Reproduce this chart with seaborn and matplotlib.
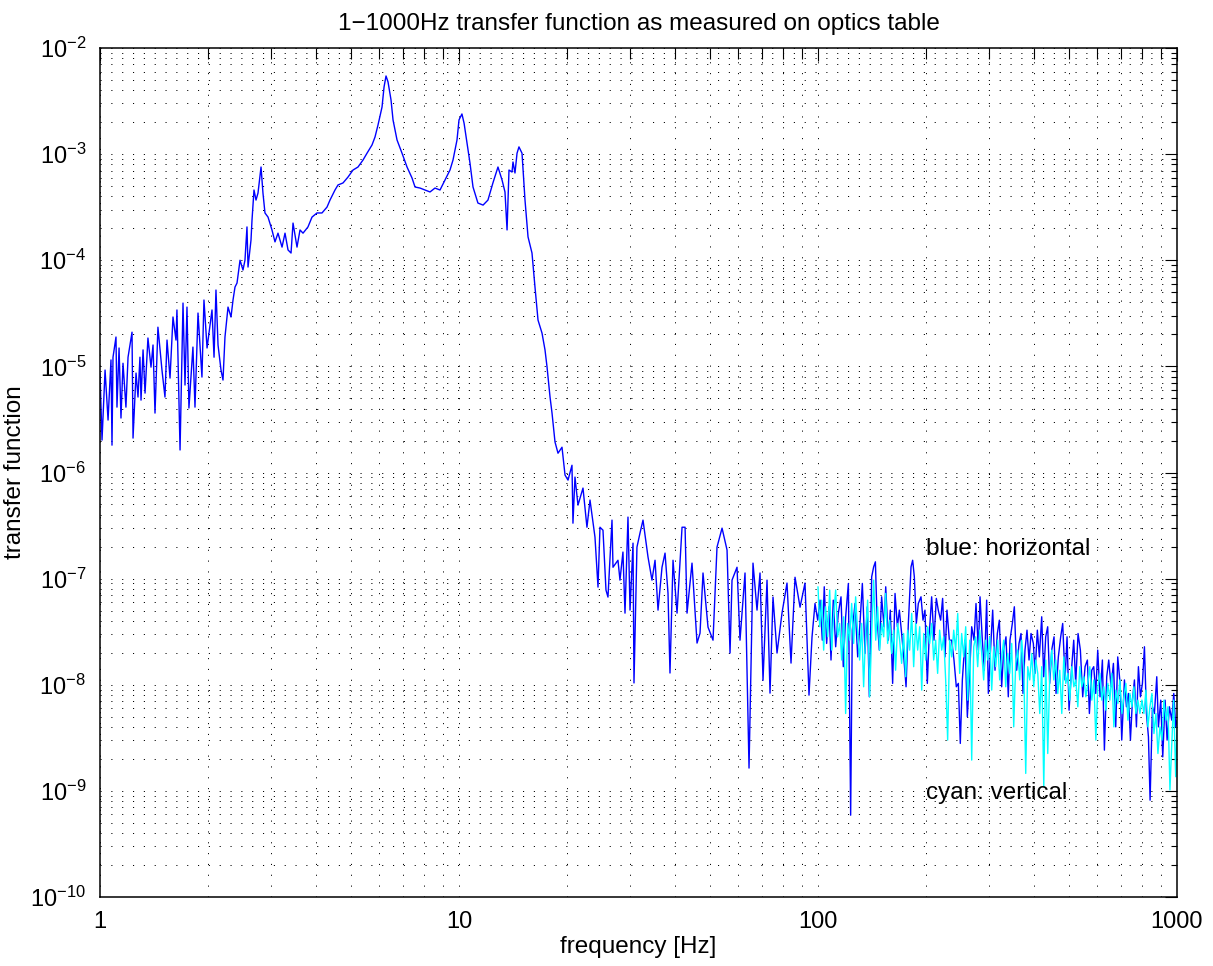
import matplotlib
matplotlib.use("Agg")
import matplotlib.pyplot as plt
import seaborn as sns
from matplotlib.ticker import LogLocator, NullFormatter, FixedLocator

# horizontal transfer function (blue), 1-1000 Hz
freq_horizontal = [
    1.000, 1.013, 1.033, 1.053, 1.073, 1.080, 1.087, 1.108, 1.115, 1.130,
    1.144, 1.159, 1.181, 1.197, 1.228, 1.236, 1.260, 1.276, 1.292, 1.301,
    1.318, 1.335, 1.360, 1.387, 1.405, 1.423, 1.450, 1.488, 1.517, 1.537,
    1.567, 1.597, 1.628, 1.638, 1.671, 1.703, 1.725, 1.747, 1.769, 1.815,
    1.839, 1.875, 1.923, 1.948, 1.987, 2.051, 2.078, 2.104, 2.132, 2.173,
    2.201, 2.229, 2.273, 2.317, 2.347, 2.377, 2.408, 2.455, 2.502, 2.534,
    2.567, 2.584, 2.634, 2.651, 2.685, 2.720, 2.755, 2.809, 2.844, 2.881,
    2.938, 3.013, 3.072, 3.132, 3.214, 3.276, 3.340, 3.405, 3.449, 3.538,
    3.607, 3.677, 3.796, 3.895, 4.022, 4.153, 4.289, 4.372, 4.514, 4.602,
    4.752, 4.907, 5.067, 5.232, 5.403, 5.543, 5.724, 5.835, 5.948, 6.104,
    6.183, 6.262, 6.343, 6.466, 6.550, 6.720, 6.939, 7.165, 7.398, 7.542,
    7.788, 8.041, 8.303, 8.573, 8.853, 9.141, 9.438, 9.623, 9.873, 10.00,
    10.19, 10.33, 10.53, 10.73, 10.94, 11.29, 11.67, 12.04, 12.43, 12.84,
    13.18, 13.43, 13.61, 13.78, 14.05, 14.14, 14.32, 14.51, 14.69, 14.98,
    15.27, 15.57, 15.97, 16.28, 16.60, 17.03, 17.36, 17.59, 17.93, 18.16,
    18.51, 18.87, 19.36, 19.74, 20.12, 20.64, 20.77, 21.04, 21.45, 22.15,
    22.72, 23.17, 23.92, 24.39, 24.70, 25.18, 25.67, 26.00, 26.68, 26.85,
    27.72, 28.08, 28.62, 29.00, 29.56, 29.95, 30.53, 30.72, 31.31, 31.93,
    32.55, 33.61, 34.48, 35.16, 35.84, 36.77, 37.49, 38.21, 38.70, 39.46,
    40.49, 41.81, 42.63, 43.17, 44.57, 46.03, 46.92, 47.83, 49.39, 51.00,
    52.32, 54.04, 55.80, 56.88, 57.61, 59.49, 60.64, 62.62, 64.25, 65.91,
    67.63, 68.94, 70.28, 72.11, 73.51, 74.93, 76.89, 79.38, 81.97, 84.11,
    86.30, 89.12, 92.00, 94.39, 96.23,
    98.1, 99.8, 101.3, 102.8, 104.1, 105.7, 107.3, 108.7, 110.3, 112.0,
    113.9, 115.9, 117.6, 119.4, 121.5, 123.3, 124.6, 126.8, 129.0, 130.9,
    132.9, 135.2, 137.2, 139.0, 141.1, 142.9, 144.5, 146.0, 148.2, 150.4,
    152.7, 154.4, 157.0, 159.0, 161.4, 163.9, 166.4, 168.5, 171.0, 173.6,
    175.9, 178.5, 181.6, 183.5, 185.5, 187.9, 190.3, 193.6, 196.1, 198.6,
    201.6, 204.2, 207.3, 210.4, 213.6, 216.3, 219.6, 222.4, 225.8, 228.7,
    232.2, 235.7, 239.2, 242.8, 246.0, 249.1, 252.4, 256.7, 260.6, 264.0,
    268.0, 272.0, 275.5, 279.7, 282.7, 286.9, 290.6, 295.0, 298.2, 302.7,
    306.6, 311.2, 315.9, 320.0, 324.8, 329.0, 333.9, 338.9, 342.6, 347.8,
    352.3, 357.6, 363.0, 367.7, 372.4, 377.2, 382.1, 387.1, 392.1, 398.0,
    402.3, 408.3, 413.6, 419.9, 425.3, 430.8, 436.3, 442.0, 447.7, 454.4,
    460.3, 467.2, 474.3, 480.4, 487.7, 494.0, 500.4, 509.0, 515.6, 522.2,
    530.1, 538.1, 546.2, 554.5, 562.8, 570.1, 578.7, 586.2, 593.8, 601.4,
    610.5, 619.7, 627.7, 637.2, 645.4, 655.2, 665.1, 675.1, 683.8, 694.1,
    701.6, 713.8, 723.0, 732.3, 741.8, 751.4, 761.1, 770.9, 780.8, 790.9,
    801.1, 811.5, 822.0, 832.6, 841.5, 854.2, 865.2, 878.3, 887.7, 901.1,
    912.7, 926.5, 938.5, 952.6, 967.0, 979.5, 991.8, 1000.0,
]
tf_horizontal = [
    8.65e-6, 2.02e-6, 9.23e-6, 3.12e-6, 1.15e-5, 1.81e-6, 1.22e-5, 1.89e-5, 4.13e-6, 1.49e-5,
    3.26e-6, 1.07e-5, 4.13e-6, 1.22e-5, 2.10e-5, 2.11e-6, 8.65e-6, 5.14e-6, 1.22e-5, 4.81e-6,
    1.43e-5, 5.60e-6, 1.85e-5, 9.84e-6, 1.59e-5, 3.63e-6, 2.34e-5, 9.23e-6, 5.14e-6, 1.77e-5,
    7.76e-6, 2.92e-5, 1.77e-5, 3.40e-5, 1.63e-6, 3.95e-5, 6.67e-6, 3.62e-5, 4.05e-6, 1.52e-5,
    4.13e-6, 3.18e-5, 7.93e-6, 4.22e-5, 1.49e-5, 3.40e-5, 1.22e-5, 5.24e-5, 1.59e-5, 9.23e-6,
    7.43e-6, 1.89e-5, 3.62e-5, 2.92e-5, 4.22e-5, 5.59e-5, 6.10e-5, 1.00e-4, 8.09e-5, 1.00e-4,
    2.06e-4, 8.63e-5, 1.55e-4, 2.39e-4, 4.59e-4, 3.69e-4, 4.30e-4, 7.56e-4, 4.30e-4, 2.79e-4,
    2.55e-4, 1.93e-4, 1.49e-4, 1.80e-4, 1.33e-4, 1.80e-4, 1.25e-4, 1.17e-4, 2.24e-4, 1.33e-4,
    1.93e-4, 1.80e-4, 2.06e-4, 2.55e-4, 2.79e-4, 2.79e-4, 3.17e-4, 3.69e-4, 4.59e-4, 5.12e-4,
    5.35e-4, 6.08e-4, 7.08e-4, 7.56e-4, 8.80e-4, 1.02e-3, 1.22e-3, 1.45e-3, 1.88e-3, 2.78e-3,
    4.29e-3, 5.45e-3, 4.79e-3, 3.24e-3, 2.10e-3, 1.36e-3, 1.02e-3, 7.56e-4, 5.96e-4, 4.90e-4,
    4.79e-4, 4.59e-4, 4.40e-4, 4.79e-4, 4.59e-4, 5.70e-4, 7.08e-4, 8.80e-4, 1.36e-3, 2.10e-3,
    2.39e-3, 1.96e-3, 1.27e-3, 8.24e-4, 4.90e-4, 3.46e-4, 3.31e-4, 3.69e-4, 5.35e-4, 7.56e-4,
    5.70e-4, 4.40e-4, 1.93e-4, 7.08e-4, 6.78e-4, 8.43e-4, 6.64e-4, 1.02e-3, 1.17e-3, 1.02e-3,
    3.69e-4, 1.66e-4, 1.17e-4, 5.59e-5, 2.73e-5, 2.06e-5, 1.43e-5, 9.84e-6, 5.14e-6, 3.63e-6,
    1.94e-6, 1.52e-6, 1.73e-6, 9.46e-7, 8.48e-7, 1.17e-6, 3.33e-7, 9.05e-7, 4.93e-7, 7.13e-7,
    3.05e-7, 5.50e-7, 2.46e-7, 8.32e-8, 3.05e-7, 2.86e-7, 7.80e-8, 6.70e-8, 3.56e-7, 1.28e-7,
    1.49e-7, 9.68e-8, 1.78e-7, 4.73e-8, 3.80e-7, 5.05e-8, 2.16e-7, 1.04e-8, 1.98e-7, 2.69e-7,
    3.56e-7, 1.60e-7, 9.68e-8, 1.49e-7, 5.05e-8, 1.28e-7, 1.74e-7, 7.30e-8, 1.29e-8, 1.49e-7,
    4.73e-8, 3.05e-7, 3.05e-7, 4.73e-8, 1.40e-7, 2.47e-8, 3.06e-8, 1.13e-7, 3.49e-8, 2.63e-8,
    1.98e-7, 2.99e-7, 1.86e-7, 1.99e-8, 9.68e-8, 1.28e-7, 2.63e-8, 1.13e-7, 1.64e-9, 1.40e-7,
    5.05e-8, 1.13e-7, 1.10e-8, 9.68e-8, 8.34e-9, 6.70e-8, 1.99e-8, 4.73e-8, 9.08e-8, 1.60e-8,
    1.03e-7, 5.38e-8, 9.08e-8, 7.98e-9, 2.81e-8,
    5.83e-8, 4.06e-8, 6.27e-8, 2.63e-8, 8.38e-8, 2.45e-8, 5.43e-8, 1.71e-8, 6.27e-8, 2.28e-8,
    4.70e-8, 6.74e-8, 1.48e-8, 4.37e-8, 9.01e-8, 5.90e-10, 3.27e-8, 5.83e-8, 1.83e-8, 3.78e-8,
    9.01e-8, 1.97e-8, 5.43e-8, 7.70e-9, 1.04e-7, 1.29e-7, 1.44e-7, 4.37e-8, 2.12e-8, 6.74e-8,
    3.52e-8, 8.38e-8, 2.63e-8, 5.05e-8, 1.03e-8, 7.25e-8, 3.52e-8, 5.05e-8, 3.04e-8, 1.71e-8,
    9.57e-9, 3.78e-8, 1.29e-7, 1.49e-7, 1.04e-7, 3.78e-8, 5.83e-8, 6.74e-8, 4.06e-8, 5.05e-8,
    1.03e-8, 3.04e-8, 6.74e-8, 2.63e-8, 6.51e-8, 5.05e-8, 4.06e-8, 6.51e-8, 1.83e-8, 5.05e-8,
    2.63e-8, 2.63e-8, 1.71e-8, 9.57e-9, 1.03e-8, 2.80e-9, 1.11e-8, 2.63e-8, 4.99e-9, 1.11e-8,
    3.52e-8, 2.63e-8, 5.83e-8, 2.12e-8, 6.74e-8, 2.63e-8, 1.37e-8, 6.27e-8, 8.28e-9, 2.28e-8,
    5.05e-8, 1.37e-8, 3.04e-8, 4.06e-8, 9.57e-9, 2.12e-8, 2.83e-8, 7.70e-9, 2.63e-8, 3.78e-8,
    5.43e-8, 1.37e-8, 2.45e-8, 3.04e-8, 8.28e-9, 2.12e-8, 3.27e-8, 1.71e-8, 3.04e-8, 2.45e-8,
    1.28e-8, 3.27e-8, 1.83e-8, 4.37e-8, 1.19e-8, 2.83e-8, 3.52e-8, 1.03e-8, 2.12e-8, 2.83e-8,
    8.28e-9, 1.83e-8, 2.83e-8, 3.78e-8, 1.11e-8, 2.83e-8, 5.76e-9, 1.48e-8, 2.63e-8, 1.03e-8,
    3.04e-8, 2.12e-8, 7.70e-9, 1.48e-8, 1.71e-8, 5.36e-9, 1.37e-8, 1.48e-8, 8.28e-9, 2.12e-8,
    7.70e-9, 1.71e-8, 2.42e-9, 1.19e-8, 1.71e-8, 9.57e-9, 1.59e-8, 4.01e-9, 1.83e-8, 1.03e-8,
    3.01e-9, 1.11e-8, 6.20e-9, 8.28e-9, 3.01e-9, 7.16e-9, 1.11e-8, 4.01e-9, 1.48e-8, 7.70e-9,
    1.03e-8, 2.28e-8, 5.36e-9, 3.23e-9, 8.17e-10, 6.20e-9, 5.36e-9, 1.19e-8, 4.01e-9, 7.16e-9,
    2.09e-9, 7.16e-9, 3.01e-9, 6.20e-9, 4.64e-9, 8.28e-9, 4.01e-9, 4.64e-9,
]

# vertical transfer function (cyan), 100-1000 Hz
freq_vertical = [
    100.0, 101.1, 102.4, 103.7, 105.0, 106.4, 107.8, 109.2, 110.6, 112.0,
    113.4, 114.9, 116.4, 117.9, 119.4, 120.9, 122.5, 124.1, 125.7, 127.3,
    129.0, 130.6, 132.3, 134.0, 135.8, 137.5, 139.3, 141.1, 142.9, 144.8,
    146.6, 148.5, 150.4, 152.4, 154.3, 156.3, 158.3, 160.4, 162.4, 164.5,
    166.7, 168.8, 171.0, 173.2, 175.5, 177.7, 180.0, 182.4, 184.7, 187.1,
    189.5, 192.0, 194.5, 197.0, 199.5, 202.1, 204.7, 207.4, 210.0, 212.7,
    215.4, 218.2, 221.1, 223.9, 226.8, 229.7, 232.7, 235.7, 238.8, 241.8,
    245.0, 248.1, 251.3, 254.6, 257.9, 261.2, 264.6, 268.0, 271.5, 275.0,
    278.5, 282.1, 285.8, 289.4, 293.2, 297.0, 300.8, 304.7, 308.6, 312.6,
    316.6, 320.7, 324.9, 329.1, 333.3, 337.6, 342.0, 346.4, 350.9, 355.4,
    360.0, 364.7, 369.4, 374.2, 379.0, 383.9, 388.9, 393.9, 399.0, 404.1,
    409.4, 414.7, 420.0, 425.5, 430.9, 436.5, 442.2, 447.9, 453.7, 459.5,
    465.5, 471.5, 477.6, 483.8, 490.0, 496.4, 502.8, 509.3, 515.9, 522.5,
    529.3, 536.1, 543.1, 550.1, 557.2, 564.4, 571.7, 579.1, 586.6, 594.2,
    601.8, 609.6, 617.5, 625.5, 633.6, 641.8, 650.1, 658.5, 667.0, 675.6,
    684.4, 693.2, 702.2, 711.3, 720.5, 729.8, 739.2, 748.8, 758.5, 768.3,
    778.2, 788.3, 798.5, 808.8, 819.3, 829.9, 840.6, 851.5, 862.5, 873.6,
    884.9, 896.4, 907.9, 919.7, 931.6, 943.6, 955.8, 966.3, 978.8, 991.5,
    1000.0,
]
tf_vertical = [
    8.38e-8, 3.52e-8, 6.27e-8, 2.12e-8, 5.43e-8, 2.83e-8, 7.80e-8, 2.12e-8, 4.70e-8, 7.80e-8,
    2.83e-8, 3.78e-8, 1.71e-8, 4.37e-8, 5.36e-9, 3.78e-8, 2.63e-8, 5.83e-8, 2.45e-8, 6.74e-8,
    3.04e-8, 1.71e-8, 3.78e-8, 9.57e-9, 3.27e-8, 6.27e-8, 7.70e-9, 3.04e-8, 9.68e-8, 2.63e-8,
    5.43e-8, 2.12e-8, 3.78e-8, 2.83e-8, 7.25e-8, 2.45e-8, 4.06e-8, 1.97e-8, 3.27e-8, 1.37e-8,
    3.78e-8, 2.63e-8, 1.59e-8, 3.04e-8, 1.19e-8, 3.27e-8, 2.12e-8, 4.70e-8, 1.48e-8, 3.78e-8,
    2.12e-8, 3.52e-8, 8.90e-9, 3.04e-8, 1.71e-8, 3.52e-8, 2.45e-8, 3.78e-8, 1.71e-8, 2.63e-8,
    1.28e-8, 3.27e-8, 2.12e-8, 2.83e-8, 1.11e-8, 3.01e-9, 2.63e-8, 1.83e-8, 3.27e-8, 2.12e-8,
    4.70e-8, 1.28e-8, 3.04e-8, 1.83e-8, 3.52e-8, 7.16e-9, 2.63e-8, 1.95e-9, 2.28e-8, 2.83e-8,
    1.48e-8, 3.27e-8, 1.97e-8, 1.11e-8, 2.63e-8, 1.71e-8, 2.83e-8, 8.90e-9, 2.28e-8, 1.48e-8,
    2.63e-8, 1.11e-8, 1.83e-8, 2.63e-8, 9.57e-9, 1.97e-8, 1.28e-8, 2.45e-8, 4.01e-9, 1.59e-8,
    2.12e-8, 1.11e-8, 2.63e-8, 1.48e-8, 1.46e-9, 1.48e-8, 1.11e-8, 1.97e-8, 9.57e-9, 1.71e-8,
    1.28e-8, 5.36e-9, 1.48e-8, 1.09e-9, 1.71e-8, 2.25e-9, 1.28e-8, 2.12e-8, 1.11e-8, 1.71e-8,
    8.28e-9, 1.37e-8, 5.36e-9, 1.83e-8, 1.03e-8, 1.28e-8, 7.16e-9, 1.48e-8, 9.57e-9, 1.11e-8,
    6.20e-9, 1.48e-8, 9.57e-9, 1.19e-8, 7.70e-9, 1.03e-8, 1.48e-8, 7.16e-9, 1.11e-8, 3.01e-9,
    9.57e-9, 1.28e-8, 7.16e-9, 9.57e-9, 5.76e-9, 1.03e-8, 7.16e-9, 1.28e-8, 4.01e-9, 8.90e-9,
    6.66e-9, 1.11e-8, 5.36e-9, 7.70e-9, 1.03e-8, 4.64e-9, 8.28e-9, 6.20e-9, 9.57e-9, 5.36e-9,
    7.16e-9, 5.36e-9, 7.16e-9, 5.36e-9, 8.90e-9, 4.01e-9, 6.20e-9, 8.28e-9, 3.47e-9, 5.36e-9,
    2.25e-9, 4.01e-9, 3.01e-9, 7.16e-9, 4.64e-9, 6.20e-9, 1.02e-9, 2.60e-9, 7.16e-9, 1.36e-9,
    4.01e-9,
]

y_decades = [1e-10, 1e-9, 1e-8, 1e-7, 1e-6, 1e-5, 1e-4, 1e-3, 1e-2]
x_decades = [1, 10, 100, 1000]
x_labels = ["1", "10", "100", "1000"]

sns.set_style("white")
plt.rcParams["font.family"] = ["Liberation Sans", "DejaVu Sans"]
plt.rcParams["mathtext.fontset"] = "custom"
plt.rcParams["mathtext.rm"] = "Liberation Sans"
plt.rcParams["mathtext.it"] = "Liberation Sans:italic"
plt.rcParams["mathtext.bf"] = "Liberation Sans:bold"
plt.rcParams["lines.scale_dashes"] = False
plt.rcParams["text.color"] = "black"
plt.rcParams["axes.labelcolor"] = "black"
plt.rcParams["axes.titlecolor"] = "black"

fig = plt.figure(figsize=(12.13, 9.66), dpi=100)
ax = fig.add_axes([100 / 1213, 69 / 966, 1077 / 1213, 849 / 966])

sns.lineplot(x=freq_horizontal, y=tf_horizontal, color="#0000ff", lw=1.0,
             sort=False, estimator=None, ax=ax)
sns.lineplot(x=freq_vertical, y=tf_vertical, color="#00ffff", lw=1.0,
             sort=False, estimator=None, ax=ax)

ax.set_xscale("log")
ax.set_yscale("log")
ax.set_xlim(1, 1000)
ax.set_ylim(1e-10, 1e-2)

ax.xaxis.set_major_locator(FixedLocator(x_decades))
ax.set_xticklabels(x_labels)
ax.xaxis.set_minor_locator(LogLocator(base=10, subs=range(2, 10), numticks=20))
ax.xaxis.set_minor_formatter(NullFormatter())
ax.yaxis.set_major_locator(FixedLocator(y_decades))
ax.yaxis.set_minor_locator(LogLocator(base=10, subs=range(2, 10), numticks=30))
ax.yaxis.set_minor_formatter(NullFormatter())

# matlab style dotted grid on every tick
ax.grid(True, which="both", color="black", linestyle=(0, (0.8, 7)), linewidth=0.7)

ax.tick_params(which="both", direction="in", top=True, right=True,
               labelsize=17, width=0.8, colors="black")
ax.tick_params(axis="x", which="major", length=9, pad=10)
ax.tick_params(axis="x", which="minor", length=8)
ax.tick_params(axis="y", which="major", length=9, pad=10)
ax.tick_params(axis="y", which="minor", length=4.5)
for sp in ax.spines.values():
    sp.set_color("black")
    sp.set_linewidth(1.1)

ax.set_title("1\u22121000Hz transfer function as measured on optics table",
             fontsize=17.5, pad=13, color="black")
ax.set_xlabel("frequency [Hz]", fontsize=17.5, labelpad=2, color="black")
ax.set_ylabel("transfer function", fontsize=17.5, labelpad=3, color="black")

ax.text(200, 1.9e-7, "blue: horizontal", fontsize=17.5, va="center", ha="left",
        color="black")
ax.text(200, 9.5e-10, "cyan: vertical", fontsize=17.5, va="center", ha="left",
        color="black")

fig.savefig("out.png", dpi=100)
